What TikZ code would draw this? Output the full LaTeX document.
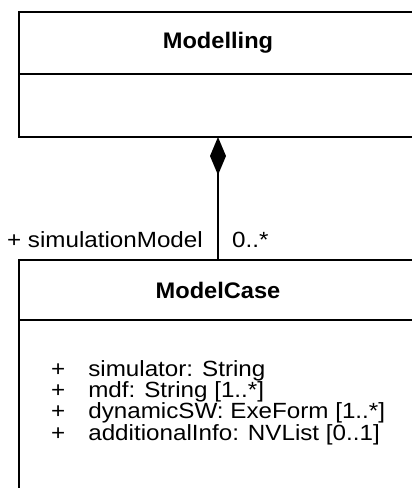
\documentclass[tikz,border=0pt]{standalone}
\usepackage{fontspec}
\setmainfont{Liberation Sans}[FakeStretch=1.1]
\newfontfamily\titlefont{Liberation Sans}[FakeStretch=1.05]
\usetikzlibrary{arrows.meta,positioning}

\begin{document}
\begin{tikzpicture}[x=1pt,y=-1pt,
    box/.style={draw,line width=2.8pt,outer sep=0pt,inner sep=0pt,
                minimum width=398pt},
    title/.style={box,font=\fontsize{22.5}{24}\titlefont\bfseries},
    label/.style={inner sep=0pt,font=\fontsize{22}{21.3}\selectfont}]

  \useasboundingbox (0,0) rectangle (412,488);
  \clip (0,0) rectangle (412,488);

  \node[title,minimum height=62pt]               (M)  at (218,43) {Modelling};
  \node[box,minimum height=63pt,below=0pt of M]  (MB) {};
  \node[title,minimum height=60pt]               (C)  at (218,290) {ModelCase};
  \node[box,minimum height=200pt,below=0pt of C] (CB) {};

  \node[label,align=left,anchor=north west] (A) at (51,360)
    {+\hspace{23pt}simulator: String\\
     +\hspace{23pt}mdf: String [1..*]\\
     +\hspace{23pt}dynamicSW: ExeForm [1..*]\\
     +\hspace{23pt}additionalInfo: NVList [0..1]};

  \draw[line width=2pt,{Diamond[length=38pt,width=16pt]}-] (MB) -- (C);

  \node[label,anchor=base east] (R) at ([xshift=-15pt,yshift=13pt]C.north)
    {+ simulationModel};
  \node[label,anchor=base west] (N) at ([xshift=14pt,yshift=13pt]C.north)
    {0..*};
\end{tikzpicture}
\end{document}
